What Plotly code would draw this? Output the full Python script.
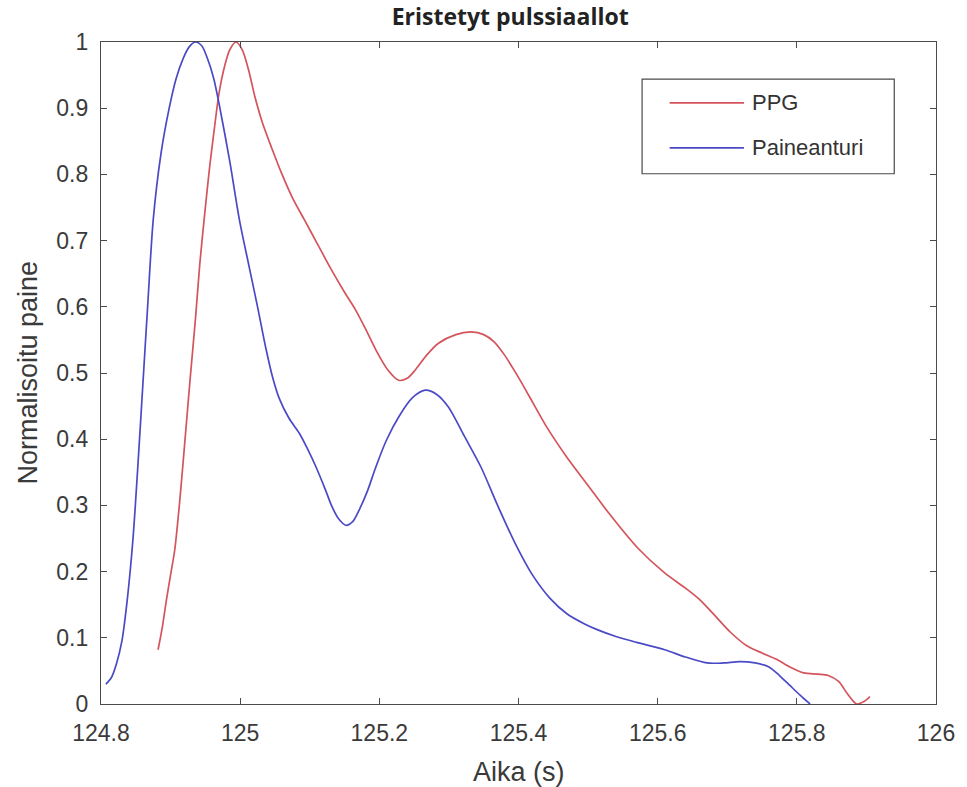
import plotly.graph_objects as go

# Isolated pulse waves: PPG and pressure sensor, normalised amplitude
t_ppg = [124.882, 124.888, 124.894, 124.900, 124.906, 124.913, 124.920, 124.928,
         124.936, 124.942, 124.949, 124.956, 124.963, 124.970, 124.978, 124.985,
         124.994, 125.003, 125.012, 125.021, 125.032, 125.046, 125.059, 125.075,
         125.092, 125.110, 125.130, 125.150, 125.166, 125.180, 125.195, 125.212,
         125.228, 125.240, 125.252, 125.268, 125.285, 125.310, 125.332, 125.350,
         125.365, 125.380, 125.395, 125.410, 125.425, 125.442, 125.470, 125.500,
         125.530, 125.571, 125.610, 125.640, 125.660, 125.681, 125.705, 125.728,
         125.750, 125.770, 125.790, 125.810, 125.830, 125.845, 125.860, 125.873,
         125.886, 125.897, 125.905]
ppg = [0.082, 0.115, 0.157, 0.195, 0.233, 0.305, 0.390, 0.490,
       0.585, 0.665, 0.740, 0.810, 0.870, 0.925, 0.965, 0.988,
       1.000, 0.988, 0.958, 0.918, 0.878, 0.838, 0.803, 0.765,
       0.732, 0.697, 0.658, 0.622, 0.595, 0.567, 0.535, 0.505,
       0.489, 0.492, 0.505, 0.527, 0.545, 0.558, 0.562, 0.558,
       0.547, 0.527, 0.502, 0.475, 0.447, 0.416, 0.372, 0.330,
       0.288, 0.236, 0.198, 0.175, 0.158, 0.135, 0.108, 0.088,
       0.077, 0.068, 0.056, 0.047, 0.045, 0.043, 0.034, 0.015,
       0.000, 0.004, 0.011]

t_paine = [124.807, 124.815, 124.822, 124.830, 124.838, 124.846, 124.853, 124.860,
           124.867, 124.875, 124.886, 124.898, 124.908, 124.918, 124.927, 124.936,
           124.945, 124.953, 124.962, 124.970, 124.985, 124.999, 125.013, 125.025,
           125.037, 125.047, 125.056, 125.070, 125.085, 125.097, 125.109, 125.122,
           125.132, 125.142, 125.152, 125.162, 125.171, 125.183, 125.195, 125.210,
           125.228, 125.247, 125.266, 125.282, 125.299, 125.322, 125.346, 125.370,
           125.395, 125.420, 125.445, 125.470, 125.495, 125.514, 125.540, 125.570,
           125.610, 125.640, 125.671, 125.695, 125.718, 125.740, 125.760, 125.775,
           125.790, 125.805, 125.819]
paine = [0.030, 0.040, 0.060, 0.095, 0.160, 0.250, 0.360, 0.480,
         0.600, 0.731, 0.830, 0.900, 0.945, 0.975, 0.993, 1.000,
         0.994, 0.975, 0.945, 0.905, 0.820, 0.731, 0.660, 0.600,
         0.537, 0.492, 0.462, 0.432, 0.409, 0.385, 0.358, 0.325,
         0.298, 0.279, 0.270, 0.276, 0.293, 0.322, 0.358, 0.398,
         0.434, 0.462, 0.474, 0.468, 0.449, 0.405, 0.358, 0.300,
         0.243, 0.195, 0.160, 0.136, 0.121, 0.112, 0.102, 0.093,
         0.082, 0.071, 0.062, 0.062, 0.064, 0.062, 0.056, 0.043,
         0.028, 0.013, 0.000]

x_ticks = [124.8, 125.0, 125.2, 125.4, 125.6, 125.8, 126.0]
y_ticks = [0, 0.1, 0.2, 0.3, 0.4, 0.5, 0.6, 0.7, 0.8, 0.9, 1.0]

series_names = ["PPG", "Paineanturi"]
series_colors = ["#d4545c", "#4a4ac6"]

fig = go.Figure()
fig.add_trace(go.Scatter(x=t_ppg, y=ppg, mode="lines", name=series_names[0],
                         line=dict(color=series_colors[0], width=1.7, shape="spline", smoothing=0.8),
                         showlegend=False))
fig.add_trace(go.Scatter(x=t_paine, y=paine, mode="lines", name=series_names[1],
                         line=dict(color=series_colors[1], width=1.7, shape="spline", smoothing=0.8),
                         showlegend=False))

font_family = "Liberation Sans, Arial, sans-serif"
axis_style = dict(showline=True, linecolor="#4a4a4a", linewidth=1.2, mirror="ticks",
                  ticks="inside", ticklen=6, tickcolor="#4a4a4a", tickwidth=1,
                  showgrid=False, zeroline=False,
                  tickfont=dict(family=font_family, size=23, color="#3a3a3a"))

fig.update_xaxes(range=[124.8, 126.0], tickvals=x_ticks, ticklabelstandoff=8, **axis_style)
fig.update_yaxes(range=[0, 1.0], tickvals=y_ticks, ticklabelstandoff=7, **axis_style)

# Legend box drawn in paper coordinates
lx0, lx1, ly0, ly1 = 0.648, 0.950, 0.801, 0.944
fig.add_shape(type="rect", xref="paper", yref="paper", x0=lx0, x1=lx1, y0=ly0, y1=ly1,
              line=dict(color="#4a4a4a", width=1.2), fillcolor="white", layer="above")
for name, col, yy in zip(series_names, series_colors, [0.908, 0.840]):
    fig.add_shape(type="line", xref="paper", yref="paper", x0=0.681, x1=0.770, y0=yy, y1=yy,
                  line=dict(color=col, width=1.7), layer="above")
    fig.add_annotation(xref="paper", yref="paper", x=0.777, y=yy, text=name, showarrow=False,
                       xanchor="left", yanchor="middle",
                       font=dict(family=font_family, size=22, color="#333333"))

# Axis titles
fig.add_annotation(xref="paper", yref="paper", x=0.5, y=-0.103, text="Aika (s)", showarrow=False,
                   xanchor="center", yanchor="middle",
                   font=dict(family=font_family, size=27, color="#3a3a3a"))
fig.add_annotation(xref="paper", yref="paper", x=-0.088, y=0.5, text="Normalisoitu paine",
                   showarrow=False, textangle=-90, xanchor="center", yanchor="middle",
                   font=dict(family=font_family, size=27, color="#3a3a3a"))

fig.update_layout(
    width=967, height=787,
    margin=dict(l=101, r=27, t=42, b=83),
    paper_bgcolor="white", plot_bgcolor="white",
    title=dict(text="<b>Eristetyt pulssiaallot</b>", xref="paper", x=0.49, xanchor="center",
               yref="container", y=0.978, yanchor="middle",
               font=dict(family="Open Sans, sans-serif", size=23, color="#222222")),
)

fig.write_html("out.html")
